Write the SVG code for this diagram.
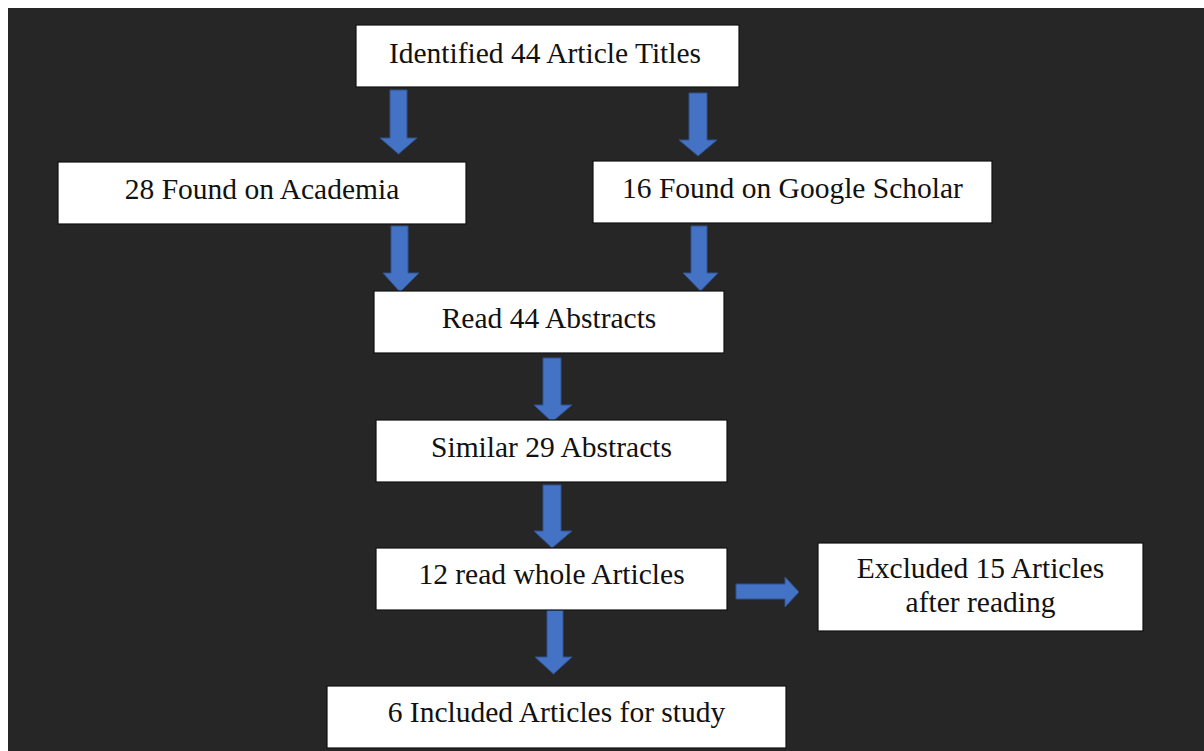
<svg xmlns="http://www.w3.org/2000/svg" width="1204" height="751" viewBox="0 0 1204 751">
<style>
.box{fill:#ffffff;stroke:#111111;stroke-width:1.2}
.lbl{font-family:"Liberation Serif","Times New Roman",serif;font-size:29.5px;fill:#111111;text-anchor:middle}
.arr{fill:#4472C4;stroke:#2F528F;stroke-width:1}
</style>
<rect x="0" y="0" width="1204" height="751" fill="#ffffff"/>
<rect x="8" y="8" width="1196" height="743" fill="#262626"/>
<g id="connectors">
<path class="arr" d="M390,90 H407 V138 H417 L398.5,154 L380,138 H390 Z"/>
<path class="arr" d="M689,93 H707 V140 H717 L698,156 L679,140 H689 Z"/>
<path class="arr" d="M391,226 H408 V273 H419 L400,292 L383,273 H391 Z"/>
<path class="arr" d="M691,226 H707 V273 H718 L700.5,291 L683,273 H691 Z"/>
<path class="arr" d="M543,358 H561 V405 H572 L552,422 L534,405 H543 Z"/>
<path class="arr" d="M543,485 H561 V531 H572 L552,548 L534,531 H543 Z"/>
<path class="arr" d="M547,610 H563 V657 H572 L553.5,674 L535,657 H547 Z"/>
<path class="arr" d="M736,584 H785 V577 L799,592 L785,607 V599 H736 Z"/>
</g>
<g id="n1"><rect class="box" x="356" y="25" width="383" height="62"/><text class="lbl" x="545" y="63">Identified 44 Article Titles</text></g>
<g id="n2"><rect class="box" x="58" y="162" width="408" height="62"/><text class="lbl" x="262" y="199">28 Found on Academia</text></g>
<g id="n3"><rect class="box" x="593" y="161" width="399" height="62"/><text class="lbl" x="792.5" y="198">16 Found on Google Scholar</text></g>
<g id="n4"><rect class="box" x="374" y="291" width="350" height="62"/><text class="lbl" x="549" y="328">Read 44 Abstracts</text></g>
<g id="n5"><rect class="box" x="376" y="420" width="351" height="62"/><text class="lbl" x="551.5" y="457">Similar 29 Abstracts</text></g>
<g id="n6"><rect class="box" x="376" y="548" width="351" height="62"/><text class="lbl" x="551.5" y="584">12 read whole Articles</text></g>
<g id="n7"><rect class="box" x="818" y="543" width="325" height="88"/><text class="lbl" x="980.5" y="578">Excluded 15 Articles</text><text class="lbl" x="980.5" y="612">after reading</text></g>
<g id="n8"><rect class="box" x="327" y="686" width="459" height="62"/><text class="lbl" x="556.5" y="722">6 Included Articles for study</text></g>
</svg>
